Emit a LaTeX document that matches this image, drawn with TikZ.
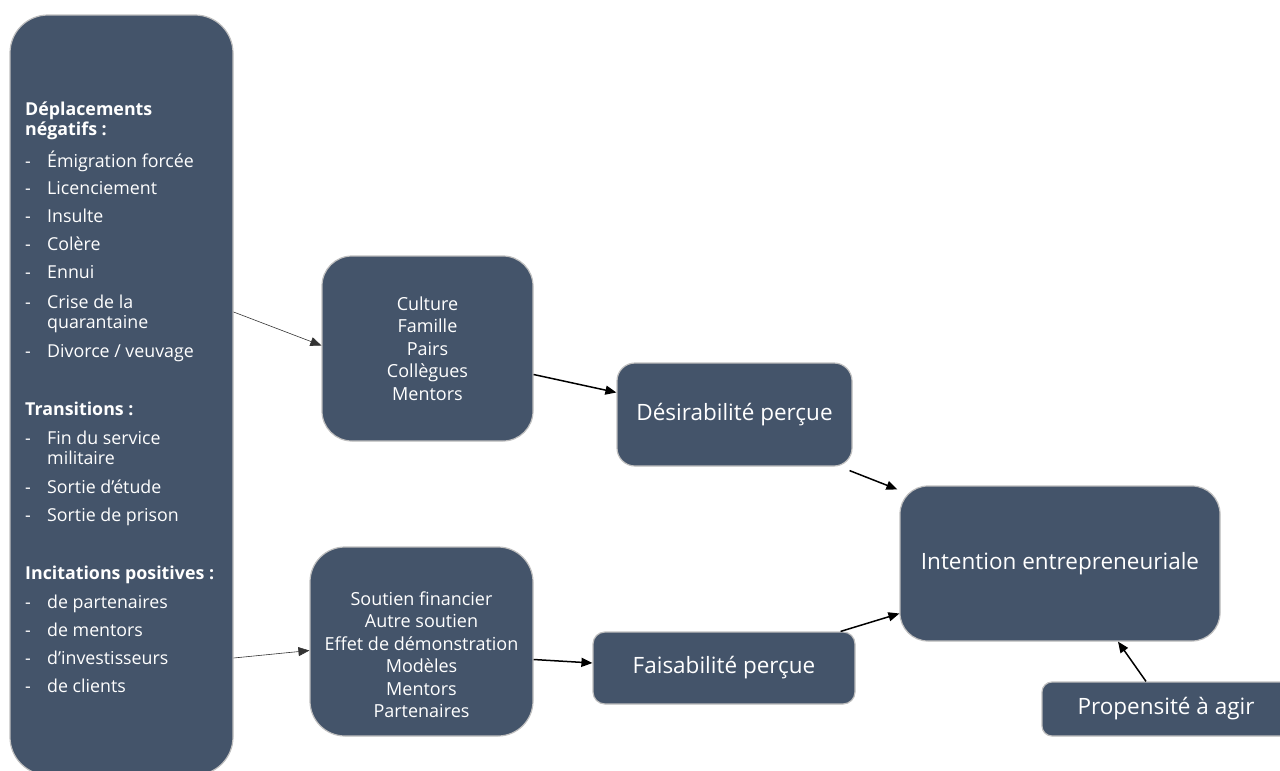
\documentclass[tikz,border=0pt]{standalone}
\usepackage{fontspec}
\setmainfont{Open Sans}
\usetikzlibrary{arrows.meta,positioning}
\usepackage{xcolor}
\definecolor{slate}{HTML}{44546A}
\definecolor{rim}{HTML}{BFBFBF}

\begin{document}
\begin{tikzpicture}[x=1pt, y=-1pt,
        box/.style={draw=rim, line width=1.2pt, fill=slate, text=white, inner sep=0pt},
        bigtext/.style={font=\fontsize{22.5}{27}\selectfont},
        smalltext/.style={font=\fontsize{18}{22.5}\selectfont, align=center, text=white},
        feed/.style={-{Triangle[length=11pt,width=9pt]}, line width=0.6pt, draw=black!80},
        link/.style={-{Triangle[length=11pt,width=9pt]}, line width=1.5pt, draw=black}
    ]
        \clip (0,0) rectangle (1280,771);

        % left column
        \node (big) [
            box,
            rounded corners=38pt,
            minimum width=223pt,
            minimum height=760pt
        ] at (121.5,395) {};

        \node (bigtxt) [
            anchor=base west,
            inner sep=0pt,
            text=white,
            font=\fontsize{17.8}{20}\selectfont
        ] at (25,115)
        {
            \begin{tabular}[t]{@{}p{22pt}@{}l@{}}
                \multicolumn{2}{@{}l@{}}{\bfseries Déplacements}\\
                \multicolumn{2}{@{}l@{}}{\bfseries négatifs :}\\[10pt]
                - & Émigration forcée\\[7pt]
                - & Licenciement\\[8pt]
                - & Insulte\\[8pt]
                - & Colère\\[8pt]
                - & Ennui\\[10pt]
                - & Crise de la\\
                  & quarantaine\\[9pt]
                - & Divorce / veuvage\\[38pt]
                \multicolumn{2}{@{}l@{}}{\bfseries Transitions :}\\[9pt]
                - & Fin du service\\
                  & militaire\\[9pt]
                - & Sortie d’étude\\[8pt]
                - & Sortie de prison\\[38pt]
                \multicolumn{2}{@{}l@{}}{\bfseries Incitations positives :}\\[9pt]
                - & de partenaires\\[8pt]
                - & de mentors\\[8pt]
                - & d’investisseurs\\[8pt]
                - & de clients
            \end{tabular}
        };

        % middle
        \node (cult) [
            box,
            smalltext,
            rounded corners=30pt,
            minimum width=211pt,
            minimum height=185pt
        ] at (427.5,348.5)
        {Culture\\Famille\\Pairs\\Collègues\\Mentors};

        \node (sout) [
            box,
            rounded corners=35pt,
            minimum width=223pt,
            minimum height=189pt
        ] at (421.5,641.5) {};

        \node (souttxt) [
            smalltext
        ] at ([yshift=-13pt]sout.center)
        {Soutien financier\\Autre soutien\\Effet de démonstration\\Modèles\\Mentors\\Partenaires};

        % perceptions
        \node (desir) [
            box,
            bigtext,
            rounded corners=18pt,
            minimum width=235pt,
            minimum height=103pt
        ] at (734.5,414.5) {Désirabilité perçue};

        \node (fais) [
            box,
            bigtext,
            rounded corners=12pt,
            minimum width=262pt,
            minimum height=72pt
        ] at (724,668) {Faisabilité perçue};

        % outcome
        \node (inten) [
            box,
            bigtext,
            rounded corners=28pt,
            minimum width=320pt,
            minimum height=155pt
        ] at (1060,563.5) {Intention entrepreneuriale};

        \node (prop) [
            box,
            bigtext,
            rounded corners=10pt,
            minimum width=248pt,
            minimum height=54pt
        ] at (1166,709) {Propensité à agir};

        \draw[feed] ([yshift=83pt]big.east) to ([yshift=3pt]cult.west);
        \draw[feed] ([yshift=-263pt]big.east) to ([yshift=-9pt]sout.west);
        \draw[link] ([yshift=-26pt]cult.east) to ([yshift=22pt]desir.west);
        \draw[link] ([yshift=-18pt]sout.east) to ([yshift=5pt]fais.west);
        \draw[link] ([shift={(-3pt,-4pt)}]desir.south east) to ([shift={(-2pt,-4pt)}]inten.north west);
        \draw[link] ([xshift=-15pt]fais.north east) to ([yshift=-50pt]inten.west);
        \draw[link] ([xshift=-20pt]prop.north) to ([xshift=58pt]inten.south);
    \end{tikzpicture}
\end{document}
